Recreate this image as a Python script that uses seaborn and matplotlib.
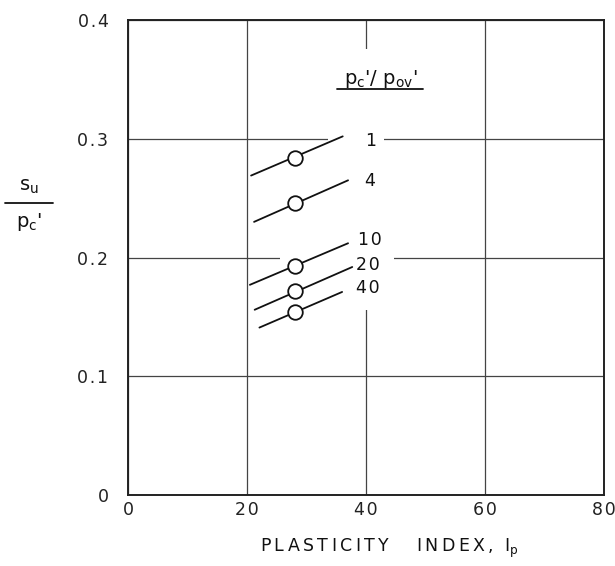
import matplotlib
matplotlib.use("Agg")
import matplotlib.pyplot as plt
from matplotlib.patches import Rectangle
from matplotlib.lines import Line2D
import seaborn as sns
import pandas as pd

# ---- data ----
ratios = ["1", "4", "10", "20", "40"]
x_start = [20.7, 21.2, 20.5, 21.3, 22.1]
y_start = [0.269, 0.230, 0.177, 0.156, 0.141]
x_end = [36.1, 37.0, 37.0, 37.7, 36.0]
y_end = [0.302, 0.265, 0.212, 0.192, 0.171]
x_point = [28.0, 28.0, 28.0, 28.0, 28.0]
y_point = [0.284, 0.246, 0.193, 0.172, 0.154]
label_x = [40.8, 40.6, 40.7, 40.3, 40.3]
label_y = [0.298, 0.264, 0.215, 0.1935, 0.174]
x_ticks = [0, 20, 40, 60, 80]
y_ticks = [0, 0.1, 0.2, 0.3, 0.4]
y_tick_labels = ["0", "0.1", "0.2", "0.3", "0.4"]

seg_rows = []
for r, xs, ys, xe, ye in zip(ratios, x_start, y_start, x_end, y_end):
    seg_rows.append({"ratio": r, "Ip": xs, "su": ys})
    seg_rows.append({"ratio": r, "Ip": xe, "su": ye})
segs = pd.DataFrame(seg_rows)
pts = pd.DataFrame({"ratio": ratios, "Ip": x_point, "su": y_point})

sns.set_style("white")
plt.rcParams["font.family"] = ["DejaVu Sans"]
plt.rcParams["mathtext.fontset"] = "dejavusans"

TS = "\u2009"  # thin space for the wide lettering
HS = "\u200a"  # hair space for numbers


def spaced(s, sep=TS):
    return sep.join(s)


fig = plt.figure(figsize=(6.15, 5.66), dpi=100)
ax = fig.add_axes([0.208, 0.1254, 0.774, 0.8393])

ax.set_xlim(0, 80)
ax.set_ylim(0, 0.4)
ax.set_xticks(x_ticks)
ax.set_xticklabels([spaced(str(t), HS) for t in x_ticks])
ax.set_yticks(y_ticks)
ax.set_yticklabels([spaced(t, HS) for t in y_tick_labels])
ax.tick_params(length=0, labelsize=12.5, colors="#222222")
ax.tick_params(axis="x", pad=4)
ax.tick_params(axis="y", pad=14)
ax.set_axisbelow(True)
ax.grid(True, color="#444444", linewidth=0.9)
for s in ax.spines.values():
    s.set_color("#222222")
    s.set_linewidth(1.4)

# gaps in the grid around the curves and labels
for (x0, y0, w, h) in [(33.6, 0.295, 9.4, 0.01), (25.6, 0.195, 19.1, 0.01),
                       (39.3, 0.156, 1.4, 0.2195)]:
    ax.add_patch(Rectangle((x0, y0), w, h, facecolor="white", edgecolor="none", zorder=1))

sns.lineplot(data=segs, x="Ip", y="su", units="ratio", estimator=None,
             color="#111111", linewidth=1.3, ax=ax, legend=False, zorder=3)
sns.scatterplot(data=pts, x="Ip", y="su", s=110, facecolor="white",
                edgecolor="#111111", linewidth=1.3, ax=ax, legend=False, zorder=4)

for r, lx, ly in zip(ratios, label_x, label_y):
    ax.text(lx, ly, spaced(r, HS), fontsize=12.5, ha="center", va="center",
            color="#111111", zorder=5)

ax.text(42.5, 0.350, r"p$_\mathregular{c}$'/ p$_\mathregular{ov}$'", fontsize=14,
        ha="center", va="center", color="#111111", zorder=5)
ax.plot([35.2, 49.6], [0.342, 0.342], color="#111111", linewidth=1.3, zorder=5)

xlabel = spaced("PLASTICITY") + "     " + spaced("INDEX,") + "  I$_\\mathregular{p}$"
ax.set_xlabel(xlabel, fontsize=12.5, color="#111111")
ax.xaxis.set_label_coords(0.55, -0.088)
ax.set_ylabel("")

# y-axis label as a fraction
fig.text(29 / 615, 1 - 187 / 566, r"s$_\mathregular{u}$", fontsize=14,
         ha="center", va="center", color="#111111")
fig.text(29 / 615, 1 - 222 / 566, r"p$_\mathregular{c}$'", fontsize=14,
         ha="center", va="center", color="#111111")
fig.add_artist(Line2D([5 / 615, 53 / 615], [1 - 203 / 566, 1 - 203 / 566],
                      color="#111111", linewidth=1.3, transform=fig.transFigure))

fig.savefig("out.png", dpi=100, facecolor="white")
